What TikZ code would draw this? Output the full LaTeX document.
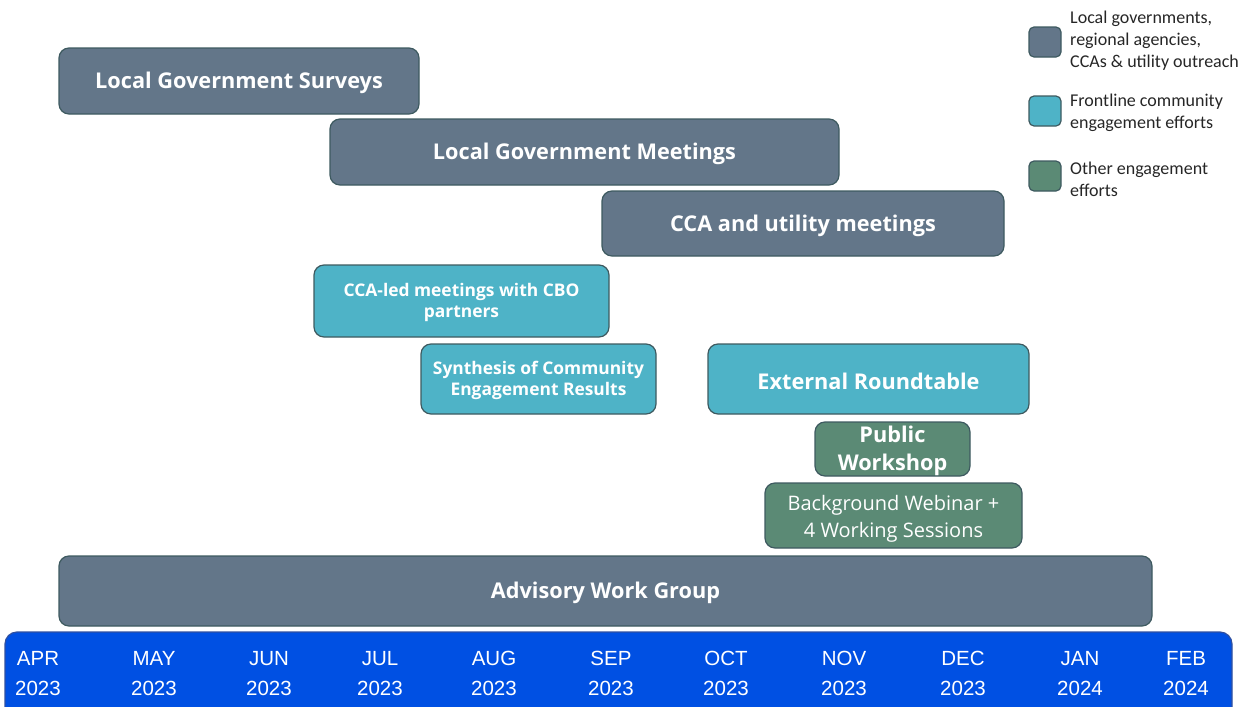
\documentclass[tikz,border=0pt]{standalone}
\usepackage{fontspec}
\setmainfont{Open Sans}
\newfontfamily\legfont{Carlito}
\newfontfamily\monfont{Liberation Sans}
\definecolor{slate}{HTML}{637689}
\definecolor{teal}{HTML}{4EB3C7}
\definecolor{sage}{HTML}{5B8A75}
\definecolor{edgec}{HTML}{3E5A60}
\definecolor{barblue}{HTML}{0050E3}
\definecolor{baredge}{HTML}{3050A0}
\tikzset{
  bar/.style={draw=edgec, line width=1.2pt, rounded corners=10pt, text=white, align=center, font=\bfseries\fontsize{21.7}{24}\selectfont},
  gov/.style={bar, fill=slate},
  comm/.style={bar, fill=teal},
  other/.style={bar, fill=sage},
  lbl/.style={yshift=-2pt},
  small/.style={font=\bfseries\fontsize{17.4}{22}\selectfont},
  swatch/.style={draw=edgec, line width=1.2pt, rounded corners=5pt},
  legtext/.style={anchor=north west, align=left, inner sep=0pt, font=\legfont\fontsize{18}{22}\selectfont, text=black!85},
  month/.style={text=white, align=center, font=\monfont\fontsize{20.5}{30}\selectfont}
}
\begin{document}
\begin{tikzpicture}[x=1pt,y=-1pt]
\useasboundingbox (0,0) rectangle (1254,707);
% boxes
\draw[gov] (59,48) rectangle (419,114) node[midway, lbl] (lgs) {Local Government Surveys};
\draw[gov] (330,119) rectangle (839,185) node[midway, lbl] (lgm) {Local Government Meetings};
\draw[gov] (602,191) rectangle (1004,256) node[midway, lbl] (cca) {CCA and utility meetings};
\draw[comm] (314,265) rectangle (609,337) node[midway, small, align=center, yshift=-1pt] (cbo) {CCA-led meetings with CBO\\[-1pt]partners};
\draw[comm] (421,344) rectangle (656,414) node[midway, small, align=center, yshift=-1pt] (syn) {Synthesis of Community\\[-1pt]Engagement Results};
\draw[comm] (708,344) rectangle (1029,414) node[midway, lbl] (ext) {External Roundtable};
\draw[other] (815,422) rectangle (970,476) node[midway, align=center, font=\bfseries\fontsize{21.7}{28}\selectfont, yshift=-2pt] (pw) {Public\\Workshop};
\draw[other] (765,483) rectangle (1022,548) node[midway, align=center, font=\fontsize{20}{27}\selectfont, yshift=-3pt] (web) {Background Webinar +\\4 Working Sessions};
\draw[gov] (59,556) rectangle (1152,626) node[midway, lbl] (awg) {Advisory Work Group};
% timeline
\begin{scope}
\clip (0,0) rectangle (1254,707);
\draw[fill=barblue, draw=baredge, line width=1.2pt, rounded corners=12pt] (5,720) -- (5,632) -- (1232,632) -- (1232,720);
\end{scope}
\foreach \x/\m/\y [count=\i] in {38/APR/2023,154/MAY/2023,269/JUN/2023,380/JUL/2023,494/AUG/2023,611/SEP/2023,726/OCT/2023,844/NOV/2023,963/DEC/2023,1080/JAN/2024,1186/FEB/2024}
  \node[month] (m\i) at (\x,673.5) {\m\\\y};
% legend
\draw[swatch, fill=slate] (1029,27) rectangle (1061,57);
\node[legtext] (l1) at (1070,11) {Local governments,\\regional agencies,\\CCAs \& utility outreach};
\draw[swatch, fill=teal] (1029,96) rectangle (1061,126);
\node[legtext] (l2) at (1070,94) {Frontline community\\engagement efforts};
\draw[swatch, fill=sage] (1029,161) rectangle (1061,191);
\node[legtext] (l3) at (1070,162) {Other engagement\\efforts};
\end{tikzpicture}
\end{document}
